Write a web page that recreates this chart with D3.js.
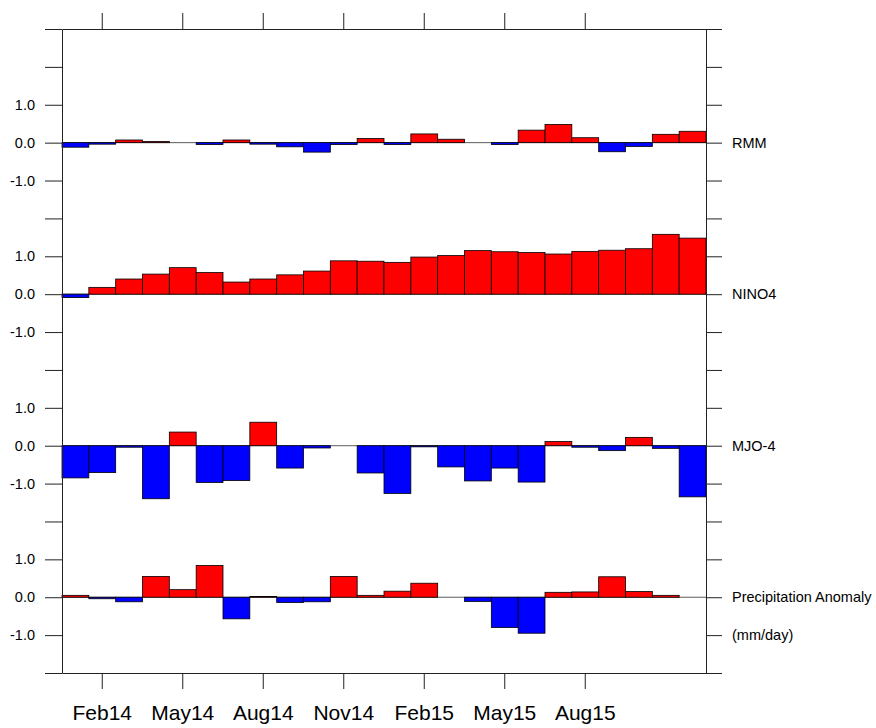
<!DOCTYPE html>
<html>
<head>
<meta charset="utf-8">
<script src="https://cdn.jsdelivr.net/npm/d3@7"></script>
<style>
  body { margin: 0; background: #fff; }
  text { font-family: "Liberation Sans", Arial, Helvetica, sans-serif; fill: #000; }
</style>
</head>
<body>
<script>

// monthly data, Jan 2014 - Dec 2015
var months = ["Jan14","Feb14","Mar14","Apr14","May14","Jun14","Jul14","Aug14","Sep14","Oct14","Nov14","Dec14",
              "Jan15","Feb15","Mar15","Apr15","May15","Jun15","Jul15","Aug15","Sep15","Oct15","Nov15","Dec15"];

var rmm    = [-0.12,-0.04, 0.07, 0.03, 0.00,-0.05, 0.07,-0.04,-0.11,-0.25,-0.05, 0.11,
              -0.05, 0.23, 0.09, 0.00,-0.05, 0.33, 0.48, 0.13,-0.24,-0.10, 0.22, 0.30];
var nino4  = [-0.09, 0.18, 0.40, 0.53, 0.70, 0.57, 0.32, 0.40, 0.51, 0.61, 0.88, 0.87,
               0.84, 0.98, 1.02, 1.15, 1.12, 1.10, 1.06, 1.13, 1.16, 1.20, 1.58, 1.48];
var mjo4   = [-0.85,-0.71,-0.04,-1.40, 0.36,-0.97,-0.92, 0.62,-0.59,-0.06, 0.00,-0.72,
              -1.26,-0.03,-0.56,-0.93,-0.59,-0.96, 0.11,-0.04,-0.13, 0.22,-0.07,-1.35];
var precip = [ 0.05,-0.04,-0.12, 0.55, 0.20, 0.84,-0.57, 0.02,-0.14,-0.12, 0.55, 0.05,
               0.16, 0.37, 0.00,-0.11,-0.80,-0.95, 0.13, 0.14, 0.54, 0.15, 0.05, 0.00];

var xTicks = ["Feb14","May14","Aug14","Nov14","Feb15","May15","Aug15"];

// panels stacked on one y axis, each one shifted by an offset
var panels = [
  {name: "RMM", values: rmm, offset: 12},
  {name: "NINO4", values: nino4, offset: 8},
  {name: "MJO-4", values: mjo4, offset: 4},
  {name: "Precipitation Anomaly", values: precip, offset: 0}
];

var margin = {top: 29, right: 170, bottom: 55, left: 62},
    width = 876 - margin.left - margin.right,
    height = 728 - margin.top - margin.bottom;

var svg = d3.select("body")
  .append("svg")
    .attr("width", 876)
    .attr("height", 728)
  .append("g")
    .attr("transform", "translate(" + margin.left + "," + margin.top + ")");

var x = d3.scaleBand()
  .domain(months)
  .range([0, width])
  .padding(0);

var y = d3.scaleLinear()
  .domain([-2, 15])
  .range([height, 0]);

var labelled = {};
panels.forEach(function(p) {
  [-1, 0, 1].forEach(function(v) { labelled[p.offset + v] = v; });
});
var fmt = function(v) {
  if (!(v in labelled)) return "";
  return labelled[v].toFixed(1);
};

// zero line + bars
panels.forEach(function(p) {
  svg.append("line")
    .attr("x1", 0)
    .attr("x2", width)
    .attr("y1", y(p.offset))
    .attr("y2", y(p.offset))
    .style("stroke", "#333")
    .style("stroke-width", 0.8);

  svg.append("g")
    .selectAll("rect")
    .data(p.values)
    .enter()
    .append("rect")
      .attr("x", function(d, i) { return x(months[i]); })
      .attr("width", x.bandwidth())
      .attr("y", function(d) { return y(p.offset + Math.max(d, 0)); })
      .attr("height", function(d) { return Math.abs(y(p.offset + d) - y(p.offset)); })
      .style("fill", function(d) { return d >= 0 ? "#ff0000" : "#0000ff"; })
      .style("stroke", "#000")
      .style("stroke-width", 0.8);
});

// axes
var tickVals = d3.range(-2, 16);

var left = svg.append("g")
  .call(d3.axisLeft(y).tickValues(tickVals).tickFormat(fmt).tickSize(17).tickSizeOuter(0).tickPadding(10));

var right = svg.append("g")
  .attr("transform", "translate(" + width + ",0)")
  .call(d3.axisRight(y).tickValues(tickVals).tickFormat("").tickSize(16).tickSizeOuter(0));

var top_ = svg.append("g")
  .call(d3.axisTop(x).tickValues(xTicks).tickFormat("").tickSize(16).tickSizeOuter(0));

var bottom = svg.append("g")
  .attr("transform", "translate(0," + height + ")")
  .call(d3.axisBottom(x).tickValues(xTicks).tickSize(16).tickSizeOuter(0).tickPadding(16));

[left, right, top_, bottom].forEach(function(g) {
  g.selectAll("path, line").style("stroke", "#222").style("stroke-width", 1);
  g.selectAll("text").style("fill", "#000");
});
left.selectAll("text").style("font-size", "14.5px").style("font-family", "'Liberation Sans', Arial, sans-serif");
bottom.selectAll("text").style("font-size", "21px").style("font-family", "'Liberation Sans', Arial, sans-serif");

// panel names on the right
svg.selectAll("panelLabels")
  .data(panels)
  .enter()
  .append("text")
    .attr("x", width + 26)
    .attr("y", function(d) { return y(d.offset); })
    .attr("dy", "0.35em")
    .style("font-size", "14.5px")
    .text(function(d) { return d.name; });

svg.append("text")
  .attr("x", width + 26)
  .attr("y", y(-1))
  .attr("dy", "0.35em")
  .style("font-size", "14.5px")
  .text("(mm/day)");

</script>
</body>
</html>
